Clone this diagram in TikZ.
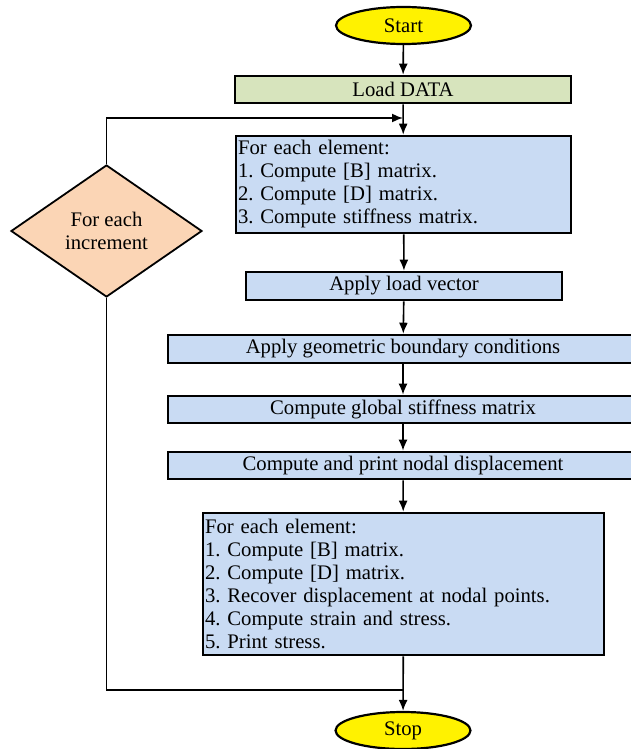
\documentclass[tikz,border=0pt]{standalone}
\usepackage{fontspec}
\setmainfont{Liberation Serif}
\frenchspacing
\usetikzlibrary{positioning,arrows,arrows.meta,shapes.geometric}
\definecolor{procblue}{HTML}{C9DBF3}
\definecolor{datagreen}{HTML}{D7E4BD}
\definecolor{peach}{HTML}{FBD5B5}
\tikzset{
  terminal/.style={draw,ellipse,fill=yellow,line width=2.2pt,minimum width=135pt,minimum height=37pt,inner sep=0pt},
  proc/.style={draw,rectangle,fill=procblue,line width=2.6pt,minimum height=27pt,inner sep=0pt},
  elem/.style={proc,align=left,inner xsep=2pt},
  loopdiam/.style={draw,diamond,fill=peach,line width=1.8pt,minimum width=191pt,minimum height=132pt,inner sep=0pt,align=center},
  flow/.style={line width=1.6pt}
}

\begin{document}
\begin{tikzpicture}[>={Latex[length=11pt,width=9pt]},x=1pt,y=1pt,font=\fontsize{20.7}{23}\selectfont]
	\useasboundingbox (0,0) rectangle (630,-749);
	\node[terminal] (start) at (403.5,-25.5) {Start};
	\node[proc,fill=datagreen,minimum width=336pt] (load) at (403,-89.5) {Load DATA};
	\node[elem,minimum height=97pt,text width=331pt] (elemA) at (403.5,-184.5) {For each element:\\1. Compute [B] matrix.\\2. Compute [D] matrix.\\3. Compute stiffness matrix.};
	\node[proc,minimum width=316pt,minimum height=28pt] (loadvec) at (404,-286) {Apply load vector};
	\node[proc,minimum width=470pt,minimum height=28pt] (bc) at (403,-349) {Apply geometric boundary conditions};
	\node[proc,minimum width=470pt] (gstiff) at (403,-409.5) {Compute global stiffness matrix};
	\node[proc,minimum width=470pt] (disp) at (403,-465.5) {Compute and print nodal displacement};
	\node[elem,minimum height=142pt,text width=397pt] (elemB) at (403.5,-584) {For each element:\\1. Compute [B] matrix.\\2. Compute [D] matrix.\\3. Recover displacement at nodal points.\\4. Compute strain and stress.\\5. Print stress.};
	\node[terminal] (stop) at (403,-730.5) {Stop};
	\node[loopdiam] (incr) at (106.5,-231) {For each\\increment};
	\coordinate (loopin) at (403,-118);
	\coordinate (loopout) at (403,-690);
	\draw [->,flow] (start) -- (load);
	\draw [->,flow] (load) -- (elemA);
	\draw [->,flow] (elemA) -- (loadvec);
	\draw [->,flow] (loadvec) -- (bc);
	\draw [->,flow] (bc) -- (gstiff);
	\draw [->,flow] (gstiff) -- (disp);
	\draw [->,flow] (disp) -- (elemB);
	\draw [->,flow] (elemB) -- (stop);
	\draw [->,flow] (incr.north) |- (loopin);
	\draw [flow] (incr.south) |- (loopout);
\end{tikzpicture}
\end{document}
